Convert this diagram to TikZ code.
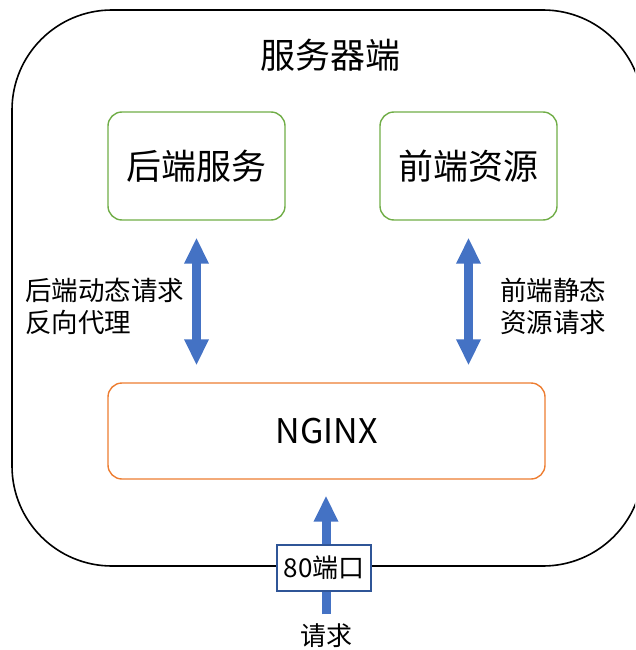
\documentclass[tikz,border=0pt]{standalone}
\usepackage{fontspec}
\setmainfont{Noto Sans CJK SC}
\usepackage{tikz}
\usetikzlibrary{
  arrows.meta,
  positioning
}
\definecolor{svcgreen}{HTML}{70AD47}
\definecolor{proxyorange}{HTML}{ED7D31}
\definecolor{flowblue}{HTML}{4472C4}
\definecolor{portblue}{HTML}{2F5597}
\begin{document}
\begin{tikzpicture}[x=1pt,y=-1pt,
      server/.style={
         draw=black,
         line width=1.6pt,
         rounded corners=100pt,
         minimum width=631pt,
         minimum height=556pt
      },
      service/.style={
         rectangle,
         draw=svcgreen,
         line width=1.4pt,
         rounded corners=14pt,
         minimum width=177pt,
         minimum height=108pt,
         font=\fontsize{35}{40}\selectfont
      },
      proxy/.style={
         rectangle,
         draw=proxyorange,
         line width=1.4pt,
         rounded corners=14pt,
         minimum width=437pt,
         minimum height=96pt,
         font=\fontsize{34}{40}\selectfont
      },
      portbox/.style={
         rectangle,
         draw=portblue,
         fill=white,
         line width=1.2pt,
         minimum width=94pt,
         minimum height=46pt,
         inner sep=0pt,
         font=\fontsize{26}{30}\selectfont
      },
      caption/.style={align=left, font=\fontsize{26.5}{32}\selectfont},
      flow/.style={draw=flowblue, line width=9pt,
         -{Triangle[width=23pt,length=26pt]}},
      both flow/.style={flow,
         {Triangle[width=23pt,length=26pt]}-{Triangle[width=23pt,length=26pt]}}
    ]
    \useasboundingbox (0,0) rectangle (635,650);
    \clip (0,0) rectangle (635,650);
    \node (server) [server] at (327.5,288) {};
    \node (title) [font=\fontsize{35}{40}\selectfont] at (330,55) {服务器端};
    \node (backend) [service] at (196.5,166) {后端服务};
    \node (frontend) [service] at (468.5,166) {前端资源};
    \node (nginx) [proxy] at (326.5,431) {NGINX};
    \node (dyn) [caption, anchor=west, inner sep=0pt] at (25,306) {后端动态请求\\反向代理};
    \node (static) [caption, anchor=west, inner sep=0pt] at (500,306) {前端静态\\资源请求};
    \node (req) [font=\fontsize{26}{30}\selectfont] at (326,636) {请求};
    % arrows
    \draw[both flow, shorten <=17pt, shorten >=17pt]
       (backend.south) -- (backend.south |- nginx.north);
    \draw[both flow, shorten <=17pt, shorten >=17pt]
       (frontend.south) -- (frontend.south |- nginx.north);
    \draw[flow, shorten <=6pt, shorten >=16pt]
       (req.north) -- (req.north |- nginx.south);
    \node (port) [portbox] at (324,568) {80端口};
\end{tikzpicture}
\end{document}
